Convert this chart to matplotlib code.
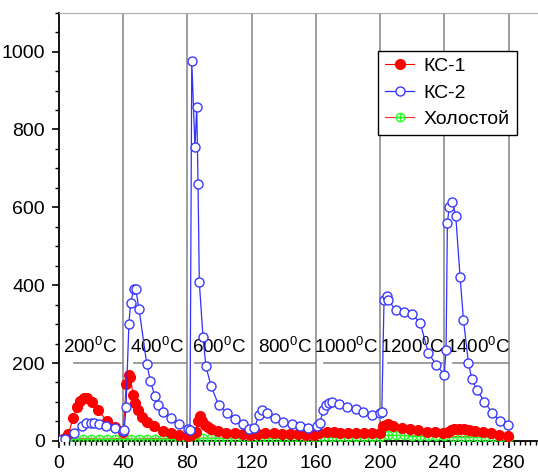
import matplotlib.pyplot as plt
from matplotlib.ticker import MultipleLocator
from matplotlib.legend_handler import HandlerTuple

plt.rcParams['font.family'] = ['Liberation Sans', 'DejaVu Sans']

# КС-1
kc1_x = [0, 3, 6, 9, 11.2, 13.3, 15.9, 17.8, 20.5, 24.5, 29.9, 35, 40.2, 42, 43.5, 44.6,
         46.4, 47.7, 49.5, 51.8, 54.8, 59.5, 64.9, 70, 75, 80.2, 82.5, 85.2, 86.7, 87.9,
         89.3, 90.8, 93, 95, 99, 104.3, 109.7, 114.6, 119, 124, 128.4, 134, 139, 144, 149,
         154, 159, 162, 166.8, 171, 175, 180, 185, 190, 195, 200, 202, 203.5, 205.1, 208.2,
         213.4, 218.6, 223.8, 229, 234, 239, 242, 244, 246, 249, 252, 255, 259, 264, 269,
         274, 279.8]
kc1_y = [2, 4, 17, 58, 88, 103, 111, 110, 101, 78, 52, 35, 24, 145, 168, 163,
         117, 97, 78, 62, 48, 37, 26, 20, 16, 12, 14, 24, 50, 64,
         52, 41, 35, 30, 25, 21, 19, 17, 15, 17, 19, 19, 18, 17, 17,
         16, 16, 20, 24, 22, 21, 21, 20, 20, 19, 20, 38, 42, 44, 39,
         33, 30, 27, 24, 22, 20, 24, 28, 30, 31, 30, 28, 25, 22, 19,
         16, 13]

# КС-2
kc2_x = [1, 4, 9.5, 14.3, 17, 20, 22.2, 24.9, 29.4, 35, 40.2, 40.8, 41.9, 43.7, 44.8,
         46.7, 47.9, 50, 54.8, 57, 59.9, 61.6, 64.7, 69.9, 74.9, 80.3, 81.7, 82.8, 84.8,
         85.9, 86.7, 87.5, 89.8, 91.6, 94.7, 99.5, 104.7, 109.7, 114.7, 118.7, 121.8,
         124.6, 126.7, 129.4, 134.6, 139.8, 145, 150, 155, 160.5, 162.5, 164.5, 166.5,
         168.4, 170, 174.6, 179.6, 184.8, 189.6, 194.8, 200, 201, 202.4, 204.1, 205.1,
         209.9, 214.9, 219.8, 225, 230, 234.8, 239.8, 241, 241.8, 243, 244.9, 247, 249.7,
         251.8, 254.9, 257, 260.1, 264.8, 269.8, 274.6, 279.8]
kc2_y = [3, 6, 21, 38, 45, 47, 47, 44, 38, 33, 26, 28, 86, 301, 354,
         391, 391, 339, 198, 155, 114, 91, 75, 59, 44, 31, 28, 976, 755,
         858, 661, 407, 267, 192, 142, 92, 72, 57, 43, 30,
         33, 67, 78, 71, 58, 48, 44, 39, 33, 38, 45, 80, 93,
         97, 100, 94, 88, 81, 74, 66, 71, 75, 361, 373, 361,
         335, 330, 326, 302, 225, 196, 170, 233, 560, 602, 614, 578, 422,
         311, 200, 159, 131, 101, 71, 51, 41]

# Холостой
blank_x = [0, 5, 10, 15, 20, 25, 30, 35, 40, 45, 50, 55, 60, 65, 70, 75, 80, 85, 90,
           95, 100, 105, 110, 115, 120, 125, 130, 135, 140, 145, 150, 155, 160, 165,
           170, 175, 180, 185, 190, 195, 200, 205, 210, 215, 220, 225, 230, 235, 240,
           245, 250, 255, 260, 265, 270, 275, 280]
blank_y = [5, 5, 5, 6, 6, 5, 5, 6, 6, 5, 5, 6, 6, 6, 6, 6, 6, 6, 7,
           7, 7, 7, 7, 7, 7, 8, 8, 8, 8, 8, 8, 8, 8, 9,
           9, 9, 9, 9, 9, 9, 9, 15, 14, 14, 13, 13, 12, 12, 12,
           11, 11, 11, 11, 10, 10, 10, 10]

zones = ['200', '400', '600', '800', '1000', '1200', '1400']
zone_label_x = [19.5, 61, 100, 141, 179, 220, 261]
zone_start = [9.5, 47, 85, 125, 165, 205, 245]
zone_end = [40, 80, 120, 160, 200, 240, 280]

fig = plt.figure(figsize=(5.38, 4.72), dpi=100)
ax = fig.add_axes([0.109, 0.066, 0.889, 0.907])

for xv in zone_end:
    ax.axvline(xv, color='#8c8c8c', lw=1.2, zorder=1)
for s, e in zip(zone_start, zone_end):
    ax.plot([s, e], [200, 200], color='#8c8c8c', lw=1.2, zorder=1)
for z, lx in zip(zones, zone_label_x):
    ax.text(lx, 242, z + r'$^{\mathregular{0}}$C', ha='center', va='center', fontsize=13.5)

gl, = ax.plot(blank_x, blank_y, color='#ff3030', lw=0.8, marker='o', ms=6,
              mfc='none', mec='#22ff22', mew=1.0, zorder=3)
gp, = ax.plot(blank_x, blank_y, ls='none', marker='+', ms=6, mec='#22ff22', mew=1.0, zorder=3)
rl, = ax.plot(kc1_x, kc1_y, color='#ff0000', lw=0.8, marker='o', ms=7,
              mfc='#ff0000', mec='#ff0000', zorder=4)
bl, = ax.plot(kc2_x, kc2_y, color='#3030ff', lw=0.9, marker='o', ms=6.5,
              mfc='white', mec='#3a3aff', mew=1.0, zorder=5)

ax.set_xlim(0, 297.5)
ax.set_ylim(0, 1100)
ax.xaxis.set_major_locator(MultipleLocator(40))
ax.xaxis.set_minor_locator(MultipleLocator(40 / 12))
ax.yaxis.set_major_locator(MultipleLocator(200))
ax.yaxis.set_minor_locator(MultipleLocator(50))
ax.tick_params(axis='both', which='major', direction='out', length=5, width=1.2,
               labelsize=14, pad=5)
ax.tick_params(axis='both', which='minor', direction='out', length=3, width=1)
ax.spines['right'].set_visible(False)
ax.spines['top'].set_color('#aaaaaa')
ax.spines['left'].set_linewidth(1.3)
ax.spines['bottom'].set_linewidth(1.3)

ax.legend([rl, bl, (gl, gp)], ['КС-1', 'КС-2', 'Холостой'],
          handler_map={tuple: HandlerTuple(ndivide=1)},
          loc='upper left', bbox_to_anchor=(0.668, 0.911), borderaxespad=0,
          fontsize=14, fancybox=False, edgecolor='black', framealpha=1,
          handlelength=1.5, borderpad=0.35, labelspacing=0.45, handletextpad=0.5)

fig.savefig('out.png', dpi=100)
